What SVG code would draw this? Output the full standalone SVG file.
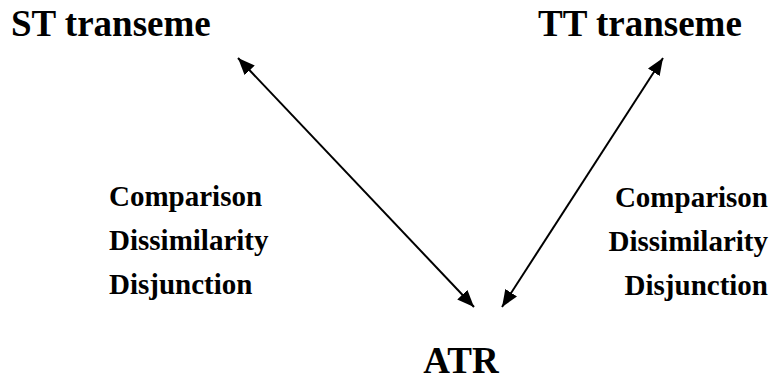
<svg xmlns="http://www.w3.org/2000/svg" width="780" height="383" viewBox="0 0 780 383">
<style>
text { font-family: "Liberation Serif", "Times New Roman", serif; font-weight: bold; fill: #000; }
.title { font-size: 37px; }
.lbl { font-size: 29px; }
.conn { stroke: #000; stroke-width: 2; fill: none; marker-start: url(#ah); marker-end: url(#ah); }
</style>
<defs>
<marker id="ah" markerUnits="userSpaceOnUse" markerWidth="18" markerHeight="14" refX="17" refY="7" orient="auto-start-reverse" viewBox="0 0 18 14">
<path d="M0,0 L17,7 L0,14 Z" fill="#000"/>
</marker>
</defs>
<rect width="780" height="383" fill="#fff"/>
<g id="st-transeme"><text class="title" x="11" y="36">ST transeme</text></g>
<g id="tt-transeme"><text class="title" x="538" y="36">TT transeme</text></g>
<g id="atr"><text class="title" x="461" y="373" text-anchor="middle">ATR</text></g>
<g id="left-labels">
<text class="lbl" x="109" y="206">Comparison</text>
<text class="lbl" x="109" y="250">Dissimilarity</text>
<text class="lbl" x="109" y="294">Disjunction</text>
</g>
<g id="right-labels">
<text class="lbl" x="768" y="207" text-anchor="end">Comparison</text>
<text class="lbl" x="768" y="251" text-anchor="end">Dissimilarity</text>
<text class="lbl" x="768" y="295" text-anchor="end">Disjunction</text>
</g>
<g id="connectors">
<line class="conn" x1="238" y1="58" x2="474" y2="307"/>
<line class="conn" x1="663" y1="58" x2="502" y2="307"/>
</g>
</svg>
